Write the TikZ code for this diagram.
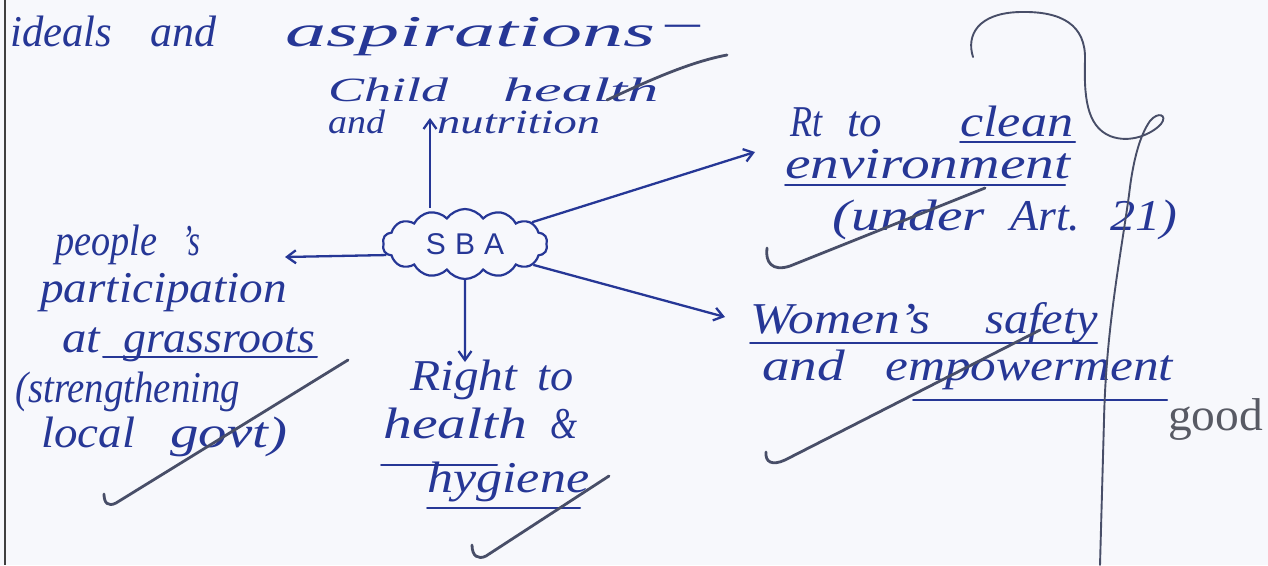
\documentclass[tikz,border=0pt]{standalone}
\usepackage{fontspec}
\usepackage{graphicx}
\usetikzlibrary{arrows.meta,shapes.symbols}
\newfontfamily\hand{Liberation Serif}
\newfontfamily\capsfont{Liberation Sans}
\definecolor{ink}{RGB}{38,55,150}
\definecolor{pen}{RGB}{72,78,104}
\definecolor{paper}{RGB}{247,248,252}
\definecolor{lead}{RGB}{88,90,100}
\newcommand\hw[2]{\resizebox{#1pt}{\height}{#2}}
\newcommand\gap[1]{\hspace{#1pt}}
\begin{document}
\begin{tikzpicture}[x=1pt,y=-1pt,
  txt/.style={anchor=base west, inner sep=0pt, text=ink,
    font=\hand\itshape\fontsize{44}{50}\selectfont},
  small/.style={font=\hand\itshape\fontsize{34}{38}\selectfont},
  arr/.style={draw=ink, line width=2.3pt,
    -{Straight Barb[length=9pt,width=13pt,line width=2.3pt]}},
  uline/.style={draw=ink, line width=2pt, line cap=round},
  tick/.style={draw=pen, line width=2.8pt, line cap=round},
  bracket/.style={draw=pen, line width=1.9pt, line cap=round},
]
\fill[paper] (0,0) rectangle (1268,565);
\useasboundingbox (0,0) rectangle (1268,565);
% page margin line
\draw[line width=2pt, draw=black!75] (5,0) -- (5,565);

% top line
\node[txt] (top) at (10,46) {\hw{102}{ideals}\gap{38}\hw{66}{and}\gap{69}\hw{370}{aspirations}\gap{10}\raisebox{10pt}{\hw{35}{—}}};

% centre cloud
\node[cloud, cloud puffs=14, cloud puff arc=110, cloud ignores aspect, draw=ink, line width=2.2pt,
      minimum width=165pt, minimum height=70pt, inner sep=0pt,
      font=\capsfont\fontsize{30}{34}\selectfont, text=ink] (sba) at (465,244)
      {S\hspace{9pt}B\hspace{9pt}A};

% child health
\node[txt, small] (child) at (328,101) {\hw{120}{Child}\gap{55}\hw{155}{health}};
\node[txt, small] (nutr) at (328,133) {\hw{57}{and}\gap{52}\hw{163}{nutrition}};
\coordinate (cup) at (430,118);

% left branch
\node[txt] (peop) at (55,255) {\hw{102}{people}\gap{25}\hw{18}{’s}};
\node[txt] (part) at (40,302) {\hw{247}{participation}};
\node[txt] (grass) at (62,352) {\hw{38}{at}\gap{23}\hw{192}{grassroots}};
\node[txt] (stren) at (15,402) {\hw{225}{(strengthening}};
\node[txt] (govt) at (41,447) {\hw{94}{local}\gap{35}\hw{117}{govt)}};
\coordinate (cleft) at (285,257);

% bottom branch
\node[txt] (right) at (410,390) {\hw{107}{Right}\gap{20}\hw{36}{to}};
\node[txt] (hlth) at (383,438) {\hw{144}{health}\gap{23}\hw{27}{\&}};
\node[txt] (hyg) at (427,492) {\hw{162}{hygiene}};
\coordinate (cdown) at (465,362);

% right upper branch
\node[txt] (rt) at (790,136) {\hw{32}{Rt}\gap{25}\hw{35}{to}\gap{78}\hw{113}{clean}};
\node[txt] (env) at (785,178) {\hw{285}{environment}};
\node[txt] (art) at (832,230) {\hw{153}{(under}\gap{25}\hw{70}{Art.}\gap{30}\hw{67}{21)}};
\coordinate (crt) at (755,152);

% right lower branch
\node[txt] (wom) at (750,333) {\hw{180}{Women’s}\gap{55}\hw{113}{safety}};
\node[txt] (emp) at (762,380) {\hw{83}{and}\gap{40}\hw{288}{empowerment}};
\coordinate (cwom) at (725,317);

% remark
\node[anchor=base west, inner sep=0pt, text=lead, font=\hand\fontsize{46}{50}\selectfont]
  (good) at (1168,430) {\hw{95}{good}};

% connectors
\draw[arr] (sba.north -| cup) -- (cup);
\draw[arr] (sba.188) -- (cleft);
\draw[arr] (sba.south) -- (cdown);
\draw[arr] (sba.18) -- (crt);
\draw[arr] (sba.-17) -- (cwom);

% underlines
\draw[uline] (103,357) -- (317,357);
\draw[uline] (381,465) -- (497,465);
\draw[uline] (427,508) -- (580,508);
\draw[uline] (960,142) -- (1075,142);
\draw[uline] (785,185) -- (1065,185);
\draw[uline] (750,343) -- (1097,343);
\draw[uline] (913,400) -- (1167,400);

% examiner's ticks
\draw[tick] (607,100) .. controls (650,80) and (690,62) .. (727,55);
\draw[tick] (104,494) .. controls (104,503) and (108,507) .. (116,503) -- (348,360);
\draw[tick] (472,545) .. controls (472,556) and (478,560) .. (486,556) -- (609,476);
\draw[tick] (767,248) .. controls (765,262) and (772,272) .. (790,266) -- (985,188);
\draw[tick] (766,452) .. controls (765,462) and (772,466) .. (785,460) -- (1040,330);

% examiner's bracket and margin line
\draw[bracket] (973,57) .. controls (966,35) and (978,13) .. (1020,12)
  .. controls (1062,11) and (1086,25) .. (1085,60)
  .. controls (1084,95) and (1086,126) .. (1110,136)
  .. controls (1130,144) and (1152,134) .. (1161,124)
  .. controls (1168,115) and (1158,111) .. (1150,121)
  .. controls (1140,135) and (1133,160) .. (1129,195)
  .. controls (1120,260) and (1106,330) .. (1104,420)
  -- (1100,565);
\end{tikzpicture}
\end{document}
